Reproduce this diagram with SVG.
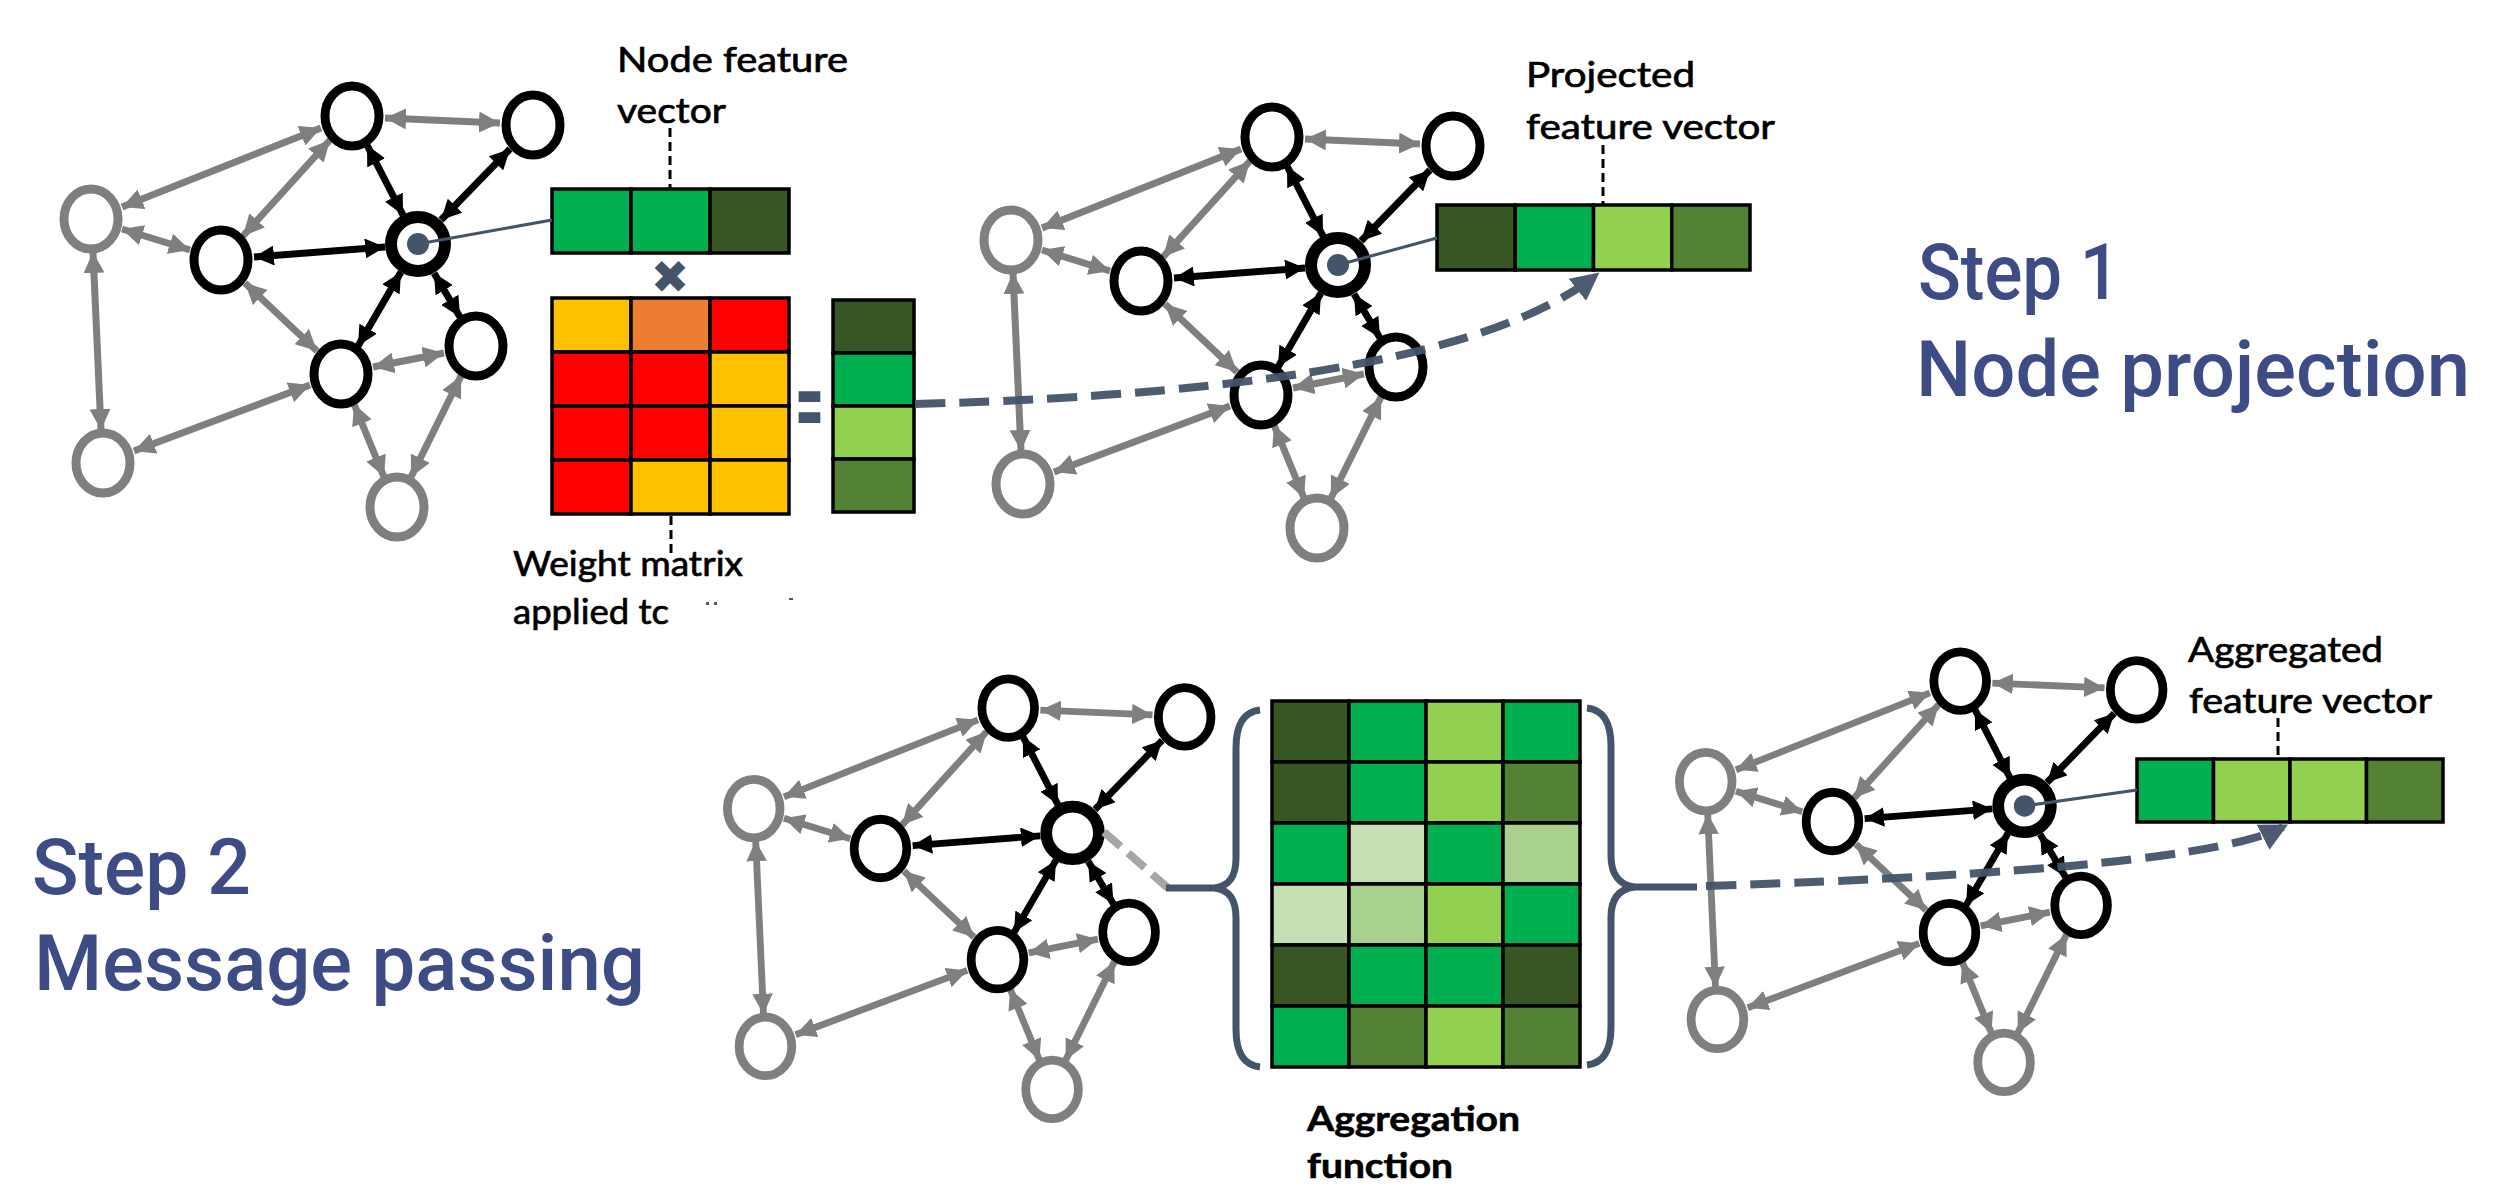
<svg xmlns="http://www.w3.org/2000/svg" width="2494" height="1186" viewBox="0 0 2494 1186">
<defs>
<style>
.ng{fill:#fff;stroke:#7f7f7f;stroke-width:9}
.nb{fill:#fff;stroke:#000;stroke-width:9}
.nc{fill:#fff;stroke:#000;stroke-width:12}
.eg{fill:none;stroke:#7f7f7f;stroke-width:7;marker-start:url(#ahG);marker-end:url(#ahG)}
.eb{fill:none;stroke:#000;stroke-width:7;marker-start:url(#ahB);marker-end:url(#ahB)}
.dot{fill:#44546a}
.cell{stroke:#000;stroke-width:3.5}
.lbl{font-family:Lato,"Liberation Sans",sans-serif;font-size:35px;fill:#000;stroke:#000;stroke-width:0.7}
.lblb{font-family:Lato,"Liberation Sans",sans-serif;font-size:35px;font-weight:700;fill:#000;stroke:#000;stroke-width:0.6}
.step{font-family:Roboto,"Liberation Sans",sans-serif;font-size:77px;font-weight:500;fill:#3e4c85}
.tick{stroke:#000;stroke-width:3;stroke-dasharray:9 5}
.flow{fill:none;stroke:#44546a;stroke-width:8;stroke-dasharray:30 14}
.ptr{stroke:#44546a;stroke-width:3}
.brace{fill:none;stroke:#44546a;stroke-width:7}
.c1{fill:#375623}.c2{fill:#00b050}.c3{fill:#92d050}.c4{fill:#548235}.c5{fill:#c5e0b4}.c6{fill:#a9d18e}
.w1{fill:#ffc000}.w2{fill:#ed7d31}.w3{fill:#ff0000}
</style>
<marker id="ahG" viewBox="0 0 10 10" refX="10" refY="5" markerWidth="21" markerHeight="21" markerUnits="userSpaceOnUse" orient="auto-start-reverse"><path d="M0,0 L10,5 L0,10 z" fill="#7f7f7f"/></marker>
<marker id="ahB" viewBox="0 0 10 10" refX="10" refY="5" markerWidth="20" markerHeight="20" markerUnits="userSpaceOnUse" orient="auto-start-reverse"><path d="M0,0 L10,5 L0,10 z" fill="#000"/></marker>
<marker id="ahD" viewBox="0 0 10 10" refX="8" refY="5" markerWidth="28" markerHeight="28" markerUnits="userSpaceOnUse" orient="auto"><path d="M0,0 L10,5 L0,10 z" fill="#44546a"/></marker>
</defs>
<rect width="2494" height="1186" fill="#fff"/>

<!-- Graph 1 -->
<g id="graph1">
<g id="g1-connectors">
<path class="eg" d="M385,118 L500,123"/>
<path class="eg" d="M122,207 L321,128"/>
<path class="eg" d="M243,236 L330,140"/>
<path class="eg" d="M122,229 L190,250"/>
<path class="eg" d="M93,252 L101,430"/>
<path class="eg" d="M134,451 L310,385"/>
<path class="eg" d="M245,283 L317,351"/>
<path class="eg" d="M373,367 L444,353"/>
<path class="eg" d="M354,404 L384,477"/>
<path class="eg" d="M461,376 L411,477"/>
<path class="eb" d="M403,215 L367,145"/>
<path class="eb" d="M441,220 L510,149"/>
<path class="eb" d="M385,247 L254,257"/>
<path class="eb" d="M401,272 L358,346"/>
<path class="eb" d="M434,273 L460,317"/>
</g>
<g id="g1-A"><ellipse class="nb" cx="352" cy="116" rx="27" ry="30"/></g>
<g id="g1-B"><ellipse class="nb" cx="533" cy="125" rx="27" ry="30"/></g>
<g id="g1-C"><ellipse class="ng" cx="91" cy="219" rx="27" ry="30"/></g>
<g id="g1-D"><ellipse class="nb" cx="221" cy="260" rx="27" ry="30"/></g>
<g id="g1-E"><circle class="nc" cx="418" cy="244" r="27"/><circle class="dot" cx="418" cy="244" r="11"/></g>
<g id="g1-F"><ellipse class="nb" cx="476" cy="346" rx="27" ry="30"/></g>
<g id="g1-G"><ellipse class="nb" cx="341" cy="374" rx="27" ry="30"/></g>
<g id="g1-H"><ellipse class="ng" cx="103" cy="463" rx="27" ry="30"/></g>
<g id="g1-I"><ellipse class="ng" cx="397" cy="507" rx="27" ry="30"/></g>
</g>

<!-- Graph 2 -->
<g id="graph2" transform="translate(920,21)">
<g id="g2-connectors">
<path class="eg" d="M385,118 L500,123"/>
<path class="eg" d="M122,207 L321,128"/>
<path class="eg" d="M243,236 L330,140"/>
<path class="eg" d="M122,229 L190,250"/>
<path class="eg" d="M93,252 L101,430"/>
<path class="eg" d="M134,451 L310,385"/>
<path class="eg" d="M245,283 L317,351"/>
<path class="eg" d="M373,367 L444,353"/>
<path class="eg" d="M354,404 L384,477"/>
<path class="eg" d="M461,376 L411,477"/>
<path class="eb" d="M403,215 L367,145"/>
<path class="eb" d="M441,220 L510,149"/>
<path class="eb" d="M385,247 L254,257"/>
<path class="eb" d="M401,272 L358,346"/>
<path class="eb" d="M434,273 L460,317"/>
</g>
<g id="g2-A"><ellipse class="nb" cx="352" cy="116" rx="27" ry="30"/></g>
<g id="g2-B"><ellipse class="nb" cx="533" cy="125" rx="27" ry="30"/></g>
<g id="g2-C"><ellipse class="ng" cx="91" cy="219" rx="27" ry="30"/></g>
<g id="g2-D"><ellipse class="nb" cx="221" cy="260" rx="27" ry="30"/></g>
<g id="g2-E"><circle class="nc" cx="418" cy="244" r="27"/><circle class="dot" cx="418" cy="244" r="11"/></g>
<g id="g2-F"><ellipse class="nb" cx="476" cy="346" rx="27" ry="30"/></g>
<g id="g2-G"><ellipse class="nb" cx="341" cy="374" rx="27" ry="30"/></g>
<g id="g2-H"><ellipse class="ng" cx="103" cy="463" rx="27" ry="30"/></g>
<g id="g2-I"><ellipse class="ng" cx="397" cy="507" rx="27" ry="30"/></g>
</g>

<!-- Graph 3 -->
<g id="graph3" transform="translate(665,595) scale(0.975)">
<g id="g3-connectors">
<path class="eg" d="M385,118 L500,123"/>
<path class="eg" d="M122,207 L321,128"/>
<path class="eg" d="M243,236 L330,140"/>
<path class="eg" d="M122,229 L190,250"/>
<path class="eg" d="M93,252 L101,430"/>
<path class="eg" d="M134,451 L310,385"/>
<path class="eg" d="M245,283 L317,351"/>
<path class="eg" d="M373,367 L444,353"/>
<path class="eg" d="M354,404 L384,477"/>
<path class="eg" d="M461,376 L411,477"/>
<path class="eb" d="M403,215 L367,145"/>
<path class="eb" d="M441,220 L510,149"/>
<path class="eb" d="M385,247 L254,257"/>
<path class="eb" d="M401,272 L358,346"/>
<path class="eb" d="M434,273 L460,317"/>
</g>
<g id="g3-A"><ellipse class="nb" cx="352" cy="116" rx="27" ry="30"/></g>
<g id="g3-B"><ellipse class="nb" cx="533" cy="125" rx="27" ry="30"/></g>
<g id="g3-C"><ellipse class="ng" cx="91" cy="219" rx="27" ry="30"/></g>
<g id="g3-D"><ellipse class="nb" cx="221" cy="260" rx="27" ry="30"/></g>
<g id="g3-E"><circle class="nc" cx="418" cy="244" r="27"/></g>
<g id="g3-F"><ellipse class="nb" cx="476" cy="346" rx="27" ry="30"/></g>
<g id="g3-G"><ellipse class="nb" cx="341" cy="374" rx="27" ry="30"/></g>
<g id="g3-H"><ellipse class="ng" cx="103" cy="463" rx="27" ry="30"/></g>
<g id="g3-I"><ellipse class="ng" cx="397" cy="507" rx="27" ry="30"/></g>
</g>

<!-- Graph 4 -->
<g id="graph4" transform="translate(1617,568) scale(0.975)">
<g id="g4-connectors">
<path class="eg" d="M385,118 L500,123"/>
<path class="eg" d="M122,207 L321,128"/>
<path class="eg" d="M243,236 L330,140"/>
<path class="eg" d="M122,229 L190,250"/>
<path class="eg" d="M93,252 L101,430"/>
<path class="eg" d="M134,451 L310,385"/>
<path class="eg" d="M245,283 L317,351"/>
<path class="eg" d="M373,367 L444,353"/>
<path class="eg" d="M354,404 L384,477"/>
<path class="eg" d="M461,376 L411,477"/>
<path class="eb" d="M403,215 L367,145"/>
<path class="eb" d="M441,220 L510,149"/>
<path class="eb" d="M385,247 L254,257"/>
<path class="eb" d="M401,272 L358,346"/>
<path class="eb" d="M434,273 L460,317"/>
</g>
<g id="g4-A"><ellipse class="nb" cx="352" cy="116" rx="27" ry="30"/></g>
<g id="g4-B"><ellipse class="nb" cx="533" cy="125" rx="27" ry="30"/></g>
<g id="g4-C"><ellipse class="ng" cx="91" cy="219" rx="27" ry="30"/></g>
<g id="g4-D"><ellipse class="nb" cx="221" cy="260" rx="27" ry="30"/></g>
<g id="g4-E"><circle class="nc" cx="418" cy="244" r="27"/><circle class="dot" cx="418" cy="244" r="11"/></g>
<g id="g4-F"><ellipse class="nb" cx="476" cy="346" rx="27" ry="30"/></g>
<g id="g4-G"><ellipse class="nb" cx="341" cy="374" rx="27" ry="30"/></g>
<g id="g4-H"><ellipse class="ng" cx="103" cy="463" rx="27" ry="30"/></g>
<g id="g4-I"><ellipse class="ng" cx="397" cy="507" rx="27" ry="30"/></g>
</g>

<!-- Node feature vector -->
<g id="node-feature-vector">
<rect class="cell c2" x="552" y="189" width="79" height="64"/>
<rect class="cell c2" x="631" y="189" width="79" height="64"/>
<rect class="cell c1" x="710" y="189" width="79" height="64"/>
</g>

<!-- Weight matrix -->
<g id="weight-matrix">
<rect class="cell w1" x="552" y="298" width="79" height="54"/>
<rect class="cell w2" x="631" y="298" width="79" height="54"/>
<rect class="cell w3" x="710" y="298" width="79" height="54"/>
<rect class="cell w3" x="552" y="352" width="79" height="54"/>
<rect class="cell w3" x="631" y="352" width="79" height="54"/>
<rect class="cell w1" x="710" y="352" width="79" height="54"/>
<rect class="cell w3" x="552" y="406" width="79" height="54"/>
<rect class="cell w3" x="631" y="406" width="79" height="54"/>
<rect class="cell w1" x="710" y="406" width="79" height="54"/>
<rect class="cell w3" x="552" y="460" width="79" height="54"/>
<rect class="cell w1" x="631" y="460" width="79" height="54"/>
<rect class="cell w1" x="710" y="460" width="79" height="54"/>
</g>

<!-- Result vector (vertical) -->
<g id="result-vector">
<rect class="cell c1" x="833" y="300" width="81" height="53"/>
<rect class="cell c2" x="833" y="353" width="81" height="53"/>
<rect class="cell c3" x="833" y="406" width="81" height="53"/>
<rect class="cell c4" x="833" y="459" width="81" height="53"/>
</g>

<!-- Projected feature vector -->
<g id="projected-vector">
<rect class="cell c1" x="1437" y="205" width="78.25" height="65"/>
<rect class="cell c2" x="1515.25" y="205" width="78.25" height="65"/>
<rect class="cell c3" x="1593.5" y="205" width="78.25" height="65"/>
<rect class="cell c4" x="1671.75" y="205" width="78.25" height="65"/>
</g>

<!-- Aggregation matrix -->
<g id="aggregation-matrix">
<rect class="cell c1" x="1272" y="701" width="77" height="61"/>
<rect class="cell c2" x="1349" y="701" width="77" height="61"/>
<rect class="cell c3" x="1426" y="701" width="77" height="61"/>
<rect class="cell c2" x="1503" y="701" width="77" height="61"/>
<rect class="cell c1" x="1272" y="762" width="77" height="61"/>
<rect class="cell c2" x="1349" y="762" width="77" height="61"/>
<rect class="cell c3" x="1426" y="762" width="77" height="61"/>
<rect class="cell c4" x="1503" y="762" width="77" height="61"/>
<rect class="cell c2" x="1272" y="823" width="77" height="61"/>
<rect class="cell c5" x="1349" y="823" width="77" height="61"/>
<rect class="cell c2" x="1426" y="823" width="77" height="61"/>
<rect class="cell c6" x="1503" y="823" width="77" height="61"/>
<rect class="cell c5" x="1272" y="884" width="77" height="61"/>
<rect class="cell c6" x="1349" y="884" width="77" height="61"/>
<rect class="cell c3" x="1426" y="884" width="77" height="61"/>
<rect class="cell c2" x="1503" y="884" width="77" height="61"/>
<rect class="cell c1" x="1272" y="945" width="77" height="61"/>
<rect class="cell c2" x="1349" y="945" width="77" height="61"/>
<rect class="cell c2" x="1426" y="945" width="77" height="61"/>
<rect class="cell c1" x="1503" y="945" width="77" height="61"/>
<rect class="cell c2" x="1272" y="1006" width="77" height="61"/>
<rect class="cell c4" x="1349" y="1006" width="77" height="61"/>
<rect class="cell c3" x="1426" y="1006" width="77" height="61"/>
<rect class="cell c4" x="1503" y="1006" width="77" height="61"/>
</g>

<!-- Aggregated feature vector -->
<g id="aggregated-vector">
<rect class="cell c2" x="2137" y="759" width="76.5" height="63"/>
<rect class="cell c3" x="2213.5" y="759" width="76.5" height="63"/>
<rect class="cell c3" x="2290" y="759" width="76.5" height="63"/>
<rect class="cell c4" x="2366.5" y="759" width="76.5" height="63"/>
</g>

<!-- Operators -->
<g id="operators">
<text x="670" y="293" text-anchor="middle" font-family="DejaVu Sans, sans-serif" font-size="46" fill="#44546a">✖</text>
<text x="795" y="436" font-family="DejaVu Sans, sans-serif" font-weight="700" font-size="92" fill="#44546a" textLength="29" lengthAdjust="spacingAndGlyphs">=</text>
</g>

<!-- Connectors -->
<g id="connectors">
<line class="ptr" x1="418" y1="244" x2="552" y2="220"/>
<line class="ptr" x1="1338" y1="265" x2="1437" y2="238"/>
<line class="ptr" x1="2024" y1="806" x2="2137" y2="790"/>
<line class="tick" x1="670" y1="128" x2="670" y2="189"/>
<line class="tick" x1="671" y1="516" x2="671" y2="556"/>
<line class="tick" x1="1603" y1="145" x2="1603" y2="205"/>
<line class="tick" x1="2278" y1="718" x2="2278" y2="759"/>
<path class="flow" d="M915,404 Q1450,390 1595,276" marker-end="url(#ahD)" opacity="0.95"/>
<line x1="1104" y1="832" x2="1168" y2="888" stroke="#a6a6a6" stroke-width="8" stroke-dasharray="22 10"/>
<line x1="1166" y1="888" x2="1216" y2="888" stroke="#44546a" stroke-width="7"/>
<path class="brace" d="M1260,710 C1243,712 1236,725 1236,748 L1236,858 C1236,877 1229,886 1215,888 C1229,890 1236,899 1236,918 L1236,1029 C1236,1052 1243,1065 1260,1067"/>
<path class="brace" d="M1587,708 C1604,710 1611,723 1611,746 L1611,856 C1611,875 1620,885 1634,887 C1620,889 1611,898 1611,917 L1611,1027 C1611,1050 1604,1063 1587,1065"/>
<line x1="1633" y1="887" x2="1697" y2="887" stroke="#44546a" stroke-width="7"/>
<path class="flow" d="M1706,886 Q2200,870 2283,827" marker-end="url(#ahD)" opacity="0.95"/>
</g>

<!-- Labels -->
<g id="labels">
<text class="lbl" x="617" y="72" textLength="231" lengthAdjust="spacingAndGlyphs">Node feature</text>
<text class="lbl" x="617" y="123" textLength="109" lengthAdjust="spacingAndGlyphs">vector</text>
<text class="lbl" x="513" y="576" textLength="230" lengthAdjust="spacingAndGlyphs">Weight matrix</text>
<text class="lbl" x="513" y="624" textLength="156" lengthAdjust="spacingAndGlyphs">applied tc</text>
<rect x="706" y="602" width="3" height="3" fill="#555"/>
<rect x="714" y="602" width="3" height="3" fill="#555"/>
<rect x="789" y="598" width="4" height="2" fill="#555"/>
<text class="lbl" x="1526" y="87" textLength="169" lengthAdjust="spacingAndGlyphs">Projected</text>
<text class="lbl" x="1526" y="139" textLength="249" lengthAdjust="spacingAndGlyphs">feature vector</text>
<text class="lbl" x="2188" y="662" textLength="195" lengthAdjust="spacingAndGlyphs">Aggregated</text>
<text class="lbl" x="2189" y="713" textLength="243" lengthAdjust="spacingAndGlyphs">feature vector</text>
<text class="lblb" x="1307" y="1131" textLength="213" lengthAdjust="spacingAndGlyphs">Aggregation</text>
<text class="lblb" x="1307" y="1178" textLength="146" lengthAdjust="spacingAndGlyphs">function</text>
<text class="step" x="1918" y="299" textLength="202" lengthAdjust="spacingAndGlyphs">Step 1</text>
<text class="step" x="1916" y="396" textLength="554" lengthAdjust="spacingAndGlyphs">Node projection</text>
<text class="step" x="32" y="894" textLength="219" lengthAdjust="spacingAndGlyphs">Step 2</text>
<text class="step" x="34" y="990" textLength="611" lengthAdjust="spacingAndGlyphs">Message passing</text>
</g>
</svg>
